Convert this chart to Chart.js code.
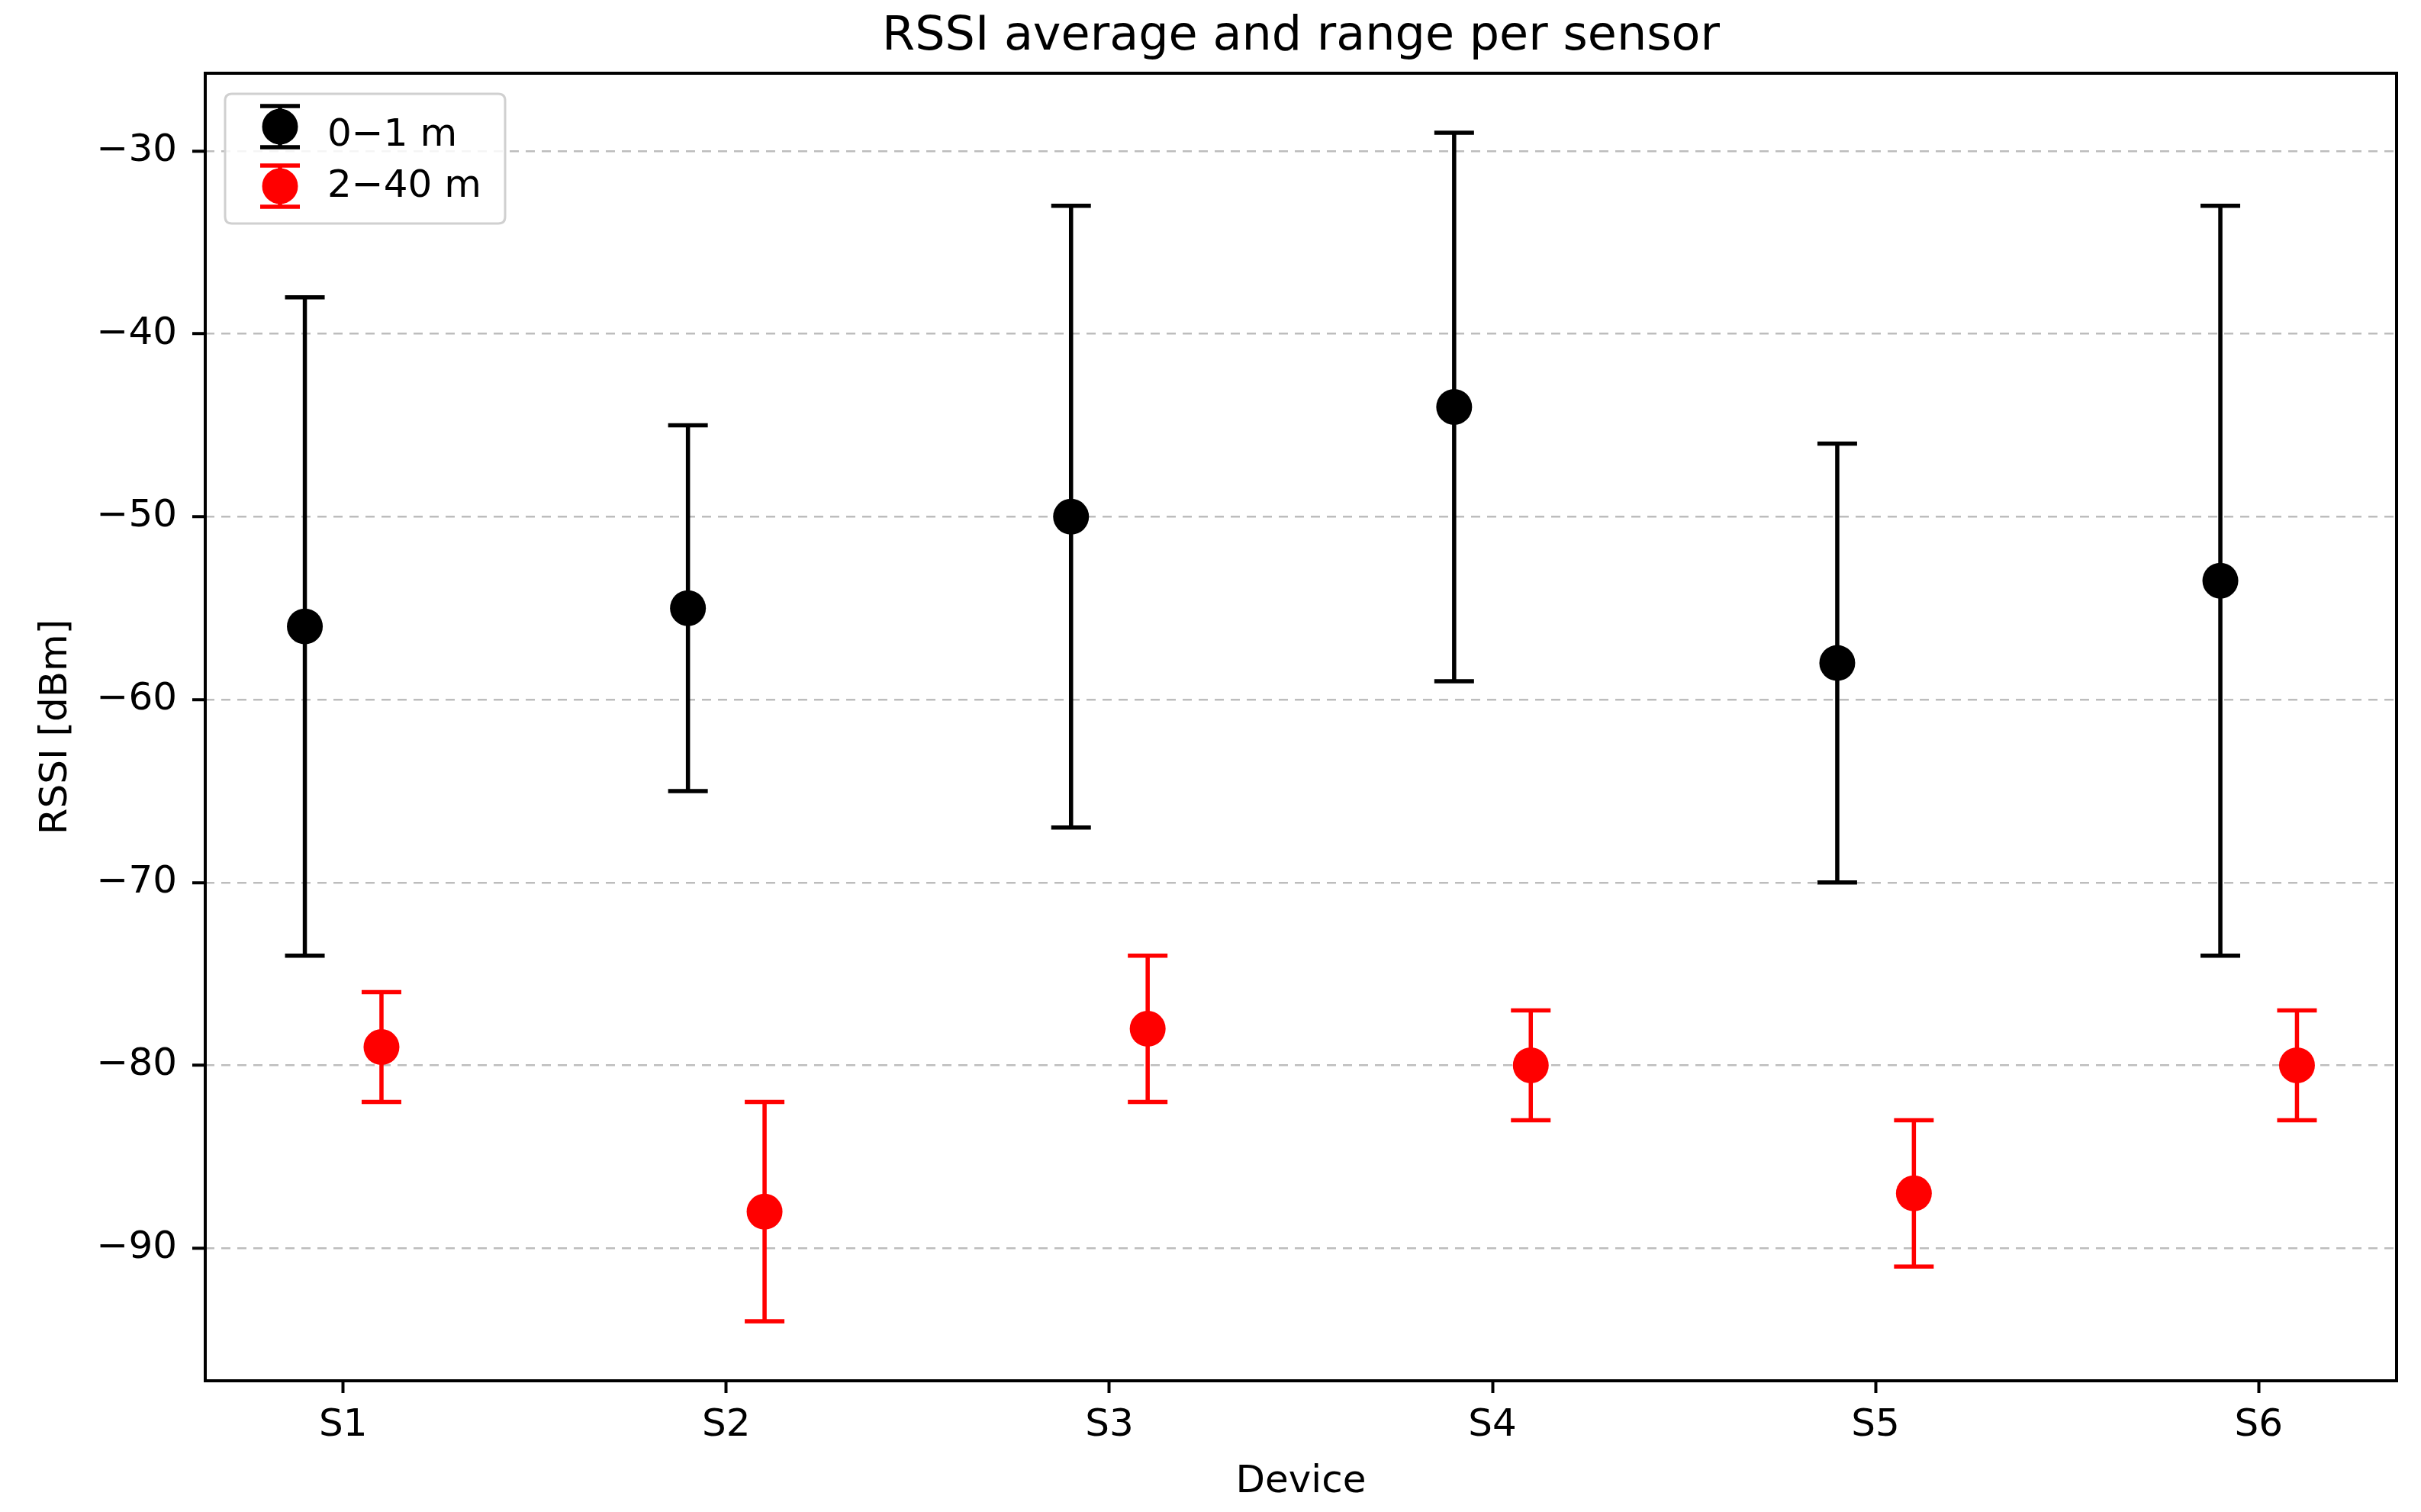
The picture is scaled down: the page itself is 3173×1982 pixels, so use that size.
<!DOCTYPE html>
<html>
<head>
<meta charset="utf-8">
<script src="https://cdn.jsdelivr.net/npm/chart.js@4.4.0/dist/chart.umd.min.js"></script>
<style>
  html, body { margin: 0; padding: 0; background: #ffffff; }
  #wrap { width: 3173px; height: 1982px; }
</style>
</head>
<body>
<div id="wrap"><canvas id="c" width="3173" height="1982"></canvas></div>
<script>
// ---------------- data ----------------
const categories = ['S1', 'S2', 'S3', 'S4', 'S5', 'S6'];
const seriesLabels = ['0\u22121 m', '2\u221240 m'];
const nearMean = [-56, -55, -50, -44, -58, -53.5];
const nearMin  = [-74, -65, -67, -59, -70, -74];
const nearMax  = [-38, -45, -33, -29, -46, -33];
const farMean  = [-79, -88, -78, -80, -87, -80];
const farMin   = [-82, -94, -82, -83, -91, -83];
const farMax   = [-76, -82, -74, -77, -83, -77];
const yTicks   = [-90, -80, -70, -60, -50, -40, -30];
const titleText = 'RSSI average and range per sensor';
const xTitle = 'Device';
const yTitle = 'RSSI [dBm]';

// ---------------- style ----------------
const FONT = 'DejaVu Sans';
const GROUP_OFFSET = 0.1;
const colors = ['#000000', '#ff0000'];
const LINE_W = 5.5;
Chart.defaults.font.family = FONT;
Chart.defaults.color = '#000000';

function pts(means, off) {
  return categories.map((c, i) => ({ x: i + off, y: means[i] }));
}

const errorBars = {
  id: 'errorBars',
  beforeDatasetsDraw(chart) {
    const ctx = chart.ctx;
    const ys = chart.scales.y;
    chart.data.datasets.forEach((ds, d) => {
      const meta = chart.getDatasetMeta(d);
      ctx.save();
      ctx.strokeStyle = ds.backgroundColor;
      ctx.lineWidth = LINE_W;
      ctx.lineCap = 'butt';
      meta.data.forEach((el, i) => {
        const x = el.x;
        const yLo = ys.getPixelForValue(ds.errMin[i]);
        const yHi = ys.getPixelForValue(ds.errMax[i]);
        const cap = 26;
        ctx.beginPath();
        ctx.moveTo(x, yLo); ctx.lineTo(x, yHi);
        ctx.moveTo(x - cap, yLo); ctx.lineTo(x + cap, yLo);
        ctx.moveTo(x - cap, yHi); ctx.lineTo(x + cap, yHi);
        ctx.stroke();
      });
      ctx.restore();
    });
  }
};

const frame = {
  id: 'frame',
  afterDatasetsDraw(chart) {
    const { ctx, chartArea: a } = chart;
    ctx.save();
    ctx.strokeStyle = '#000000';
    ctx.lineWidth = 4;
    ctx.strokeRect(a.left, a.top, a.right - a.left, a.bottom - a.top);
    ctx.restore();
  }
};

function roundRect(ctx, x, y, w, h, r) {
  ctx.beginPath();
  ctx.moveTo(x + r, y);
  ctx.lineTo(x + w - r, y);
  ctx.quadraticCurveTo(x + w, y, x + w, y + r);
  ctx.lineTo(x + w, y + h - r);
  ctx.quadraticCurveTo(x + w, y + h, x + w - r, y + h);
  ctx.lineTo(x + r, y + h);
  ctx.quadraticCurveTo(x, y + h, x, y + h - r);
  ctx.lineTo(x, y + r);
  ctx.quadraticCurveTo(x, y, x + r, y);
  ctx.closePath();
}

const legendBox = {
  id: 'legendBox',
  afterDraw(chart) {
    const { ctx, chartArea: a } = chart;
    const L = a.left + 26, T = a.top + 27, W = 367, H = 170;
    ctx.save();
    roundRect(ctx, L, T, W, H, 9);
    ctx.fillStyle = 'rgba(255,255,255,0.85)';
    ctx.fill();
    ctx.strokeStyle = '#d0d0d0';
    ctx.lineWidth = 3;
    ctx.stroke();
    const rowsIcon = [43, 121];
    const rowsText = [55, 122];
    chart.data.datasets.forEach((ds, d) => {
      const cx = L + 72, cy = T + rowsIcon[d];
      ctx.strokeStyle = ds.backgroundColor;
      ctx.fillStyle = ds.backgroundColor;
      ctx.lineWidth = LINE_W;
      ctx.beginPath();
      ctx.moveTo(cx, cy - 27); ctx.lineTo(cx, cy + 27);
      ctx.moveTo(cx - 26, cy - 27); ctx.lineTo(cx + 26, cy - 27);
      ctx.moveTo(cx - 26, cy + 27); ctx.lineTo(cx + 26, cy + 27);
      ctx.stroke();
      ctx.beginPath();
      ctx.arc(cx, cy, 23.5, 0, Math.PI * 2);
      ctx.fill();
      ctx.fillStyle = '#000000';
      ctx.font = '50px "' + FONT + '"';
      ctx.textAlign = 'left';
      ctx.textBaseline = 'middle';
      ctx.fillText(ds.label, L + 134, T + rowsText[d]);
    });
    ctx.restore();
  }
};

new Chart(document.getElementById('c'), {
  type: 'scatter',
  data: {
    datasets: [
      {
        label: seriesLabels[0],
        data: pts(nearMean, -GROUP_OFFSET),
        errMin: nearMin, errMax: nearMax,
        backgroundColor: colors[0], borderColor: colors[0],
        pointRadius: 23.5, pointHoverRadius: 23.5, borderWidth: 0, showLine: false
      },
      {
        label: seriesLabels[1],
        data: pts(farMean, GROUP_OFFSET),
        errMin: farMin, errMax: farMax,
        backgroundColor: colors[1], borderColor: colors[1],
        pointRadius: 23.5, pointHoverRadius: 23.5, borderWidth: 0, showLine: false
      }
    ]
  },
  options: {
    responsive: false,
    maintainAspectRatio: false,
    devicePixelRatio: 1,
    animation: false,
    events: [],
    layout: { padding: { left: 0, right: 32, top: 0, bottom: 0 } },
    plugins: {
      legend: { display: false },
      tooltip: { enabled: false },
      title: {
        display: true,
        fullSize: false,
        text: titleText,
        color: '#000000',
        font: { family: FONT, size: 62, weight: 'normal', lineHeight: 1.2 },
        padding: { top: 12, bottom: 9.6 }
      }
    },
    scales: {
      x: {
        type: 'linear',
        min: -0.36,
        max: 5.36,
        afterBuildTicks(scale) { scale.ticks = categories.map((c, i) => ({ value: i })); },
        afterFit(scale) { scale.height = 172; },
        ticks: {
          callback: (v) => categories[Math.round(v)],
          font: { family: FONT, size: 50 },
          color: '#000000',
          padding: 13,
          maxRotation: 0,
          autoSkip: false
        },
        grid: {
          display: true,
          drawOnChartArea: false,
          drawTicks: true,
          tickLength: 16,
          tickWidth: 4,
          tickColor: '#000000',
          color: '#000000'
        },
        border: { display: false },
        title: {
          display: true,
          text: xTitle,
          color: '#000000',
          font: { family: FONT, size: 50, lineHeight: 1.2 },
          padding: { top: 0, bottom: 9 }
        }
      },
      y: {
        type: 'linear',
        min: -97.25,
        max: -25.75,
        afterBuildTicks(scale) { scale.ticks = yTicks.map(v => ({ value: v })); },
        afterFit(scale) { scale.width = 269; },
        ticks: {
          callback: (v) => String(v).replace('-', '\u2212'),
          font: { family: FONT, size: 50 },
          color: '#000000',
          padding: 20,
          autoSkip: false
        },
        grid: {
          display: true,
          drawOnChartArea: true,
          drawTicks: true,
          color: '#bdbdbd',
          lineWidth: 2.5,
          tickLength: 17,
          tickWidth: 4,
          tickColor: '#000000',
          tickBorderDash: []
        },
        border: { display: false, dash: [12, 9] },
        title: {
          display: true,
          text: yTitle,
          color: '#000000',
          font: { family: FONT, size: 50, lineHeight: 1.2 },
          padding: { top: 44, bottom: 0 }
        }
      }
    }
  },
  plugins: [errorBars, frame, legendBox]
});
</script>
</body>
</html>
